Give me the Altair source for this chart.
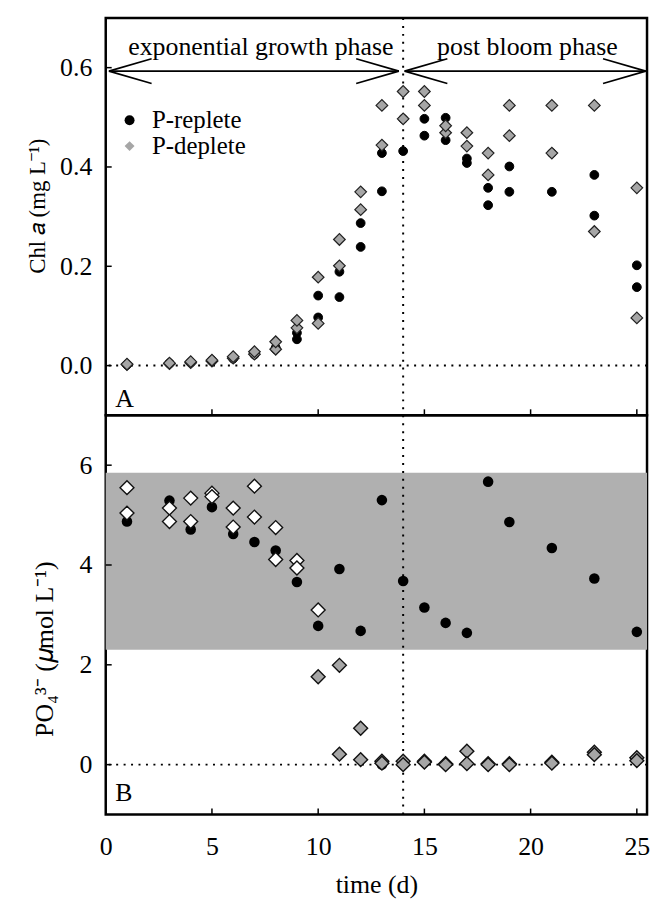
import altair as alt
import pandas as pd

# ---------------- data ----------------
days = [1, 3, 4, 5, 6, 7, 8, 9, 10, 11, 12, 13, 14, 15, 16, 17, 18, 19, 21, 23, 25]

chl_rep_a = [0.002, 0.004, 0.006, 0.009, 0.014, 0.022, 0.033, 0.053, 0.097, 0.138, 0.239,
             0.351, 0.432, 0.463, 0.454, 0.408, 0.323, 0.350, 0.350, 0.302, 0.158]
chl_rep_b = [0.002, 0.005, 0.007, 0.011, 0.016, 0.026, 0.036, 0.066, 0.141, 0.189, 0.287,
             0.428, 0.497, 0.497, 0.499, 0.417, 0.358, 0.401, 0.428, 0.384, 0.202]
chl_dep_a = [0.002, 0.004, 0.006, 0.009, 0.015, 0.023, 0.033, 0.076, 0.085, 0.201, 0.314,
             0.444, 0.497, 0.524, 0.469, 0.442, 0.384, 0.463, 0.428, 0.270, 0.096]
chl_dep_b = [0.003, 0.005, 0.008, 0.011, 0.018, 0.028, 0.048, 0.091, 0.178, 0.254, 0.350,
             0.524, 0.552, 0.552, 0.483, 0.469, 0.428, 0.524, 0.524, 0.524, 0.358]

po4_rep = [4.87, 5.29, 4.71, 5.16, 4.62, 4.46, 4.29, 3.66, 2.78, 3.92, 2.68,
           5.30, 3.68, 3.15, 2.84, 2.64, 5.67, 4.86, 4.34, 3.73, 2.66]
po4_rep_low_days = [13, 14]
po4_rep_low = [0.0, 0.0]
po4_dep_a = [5.55, 5.14, 5.34, 5.44, 5.14, 5.58, 4.75, 4.09, 3.10, 1.99, 0.73,
             0.07, 0.07, 0.07, 0.02, 0.27, 0.02, 0.02, 0.05, 0.25, 0.14]
po4_dep_b = [5.04, 4.87, 4.87, 5.37, 4.76, 4.96, 4.11, 3.94, 1.76, 0.21, 0.10,
             0.03, 0.00, 0.05, 0.00, 0.02, 0.00, 0.00, 0.03, 0.20, 0.08]

series_names = ["P-replete", "P-deplete"]
x_domain = [0, 25.48]
chl_domain = [-0.1, 0.7]
po4_domain = [-1, 7]
x_ticks = [0, 5, 10, 15, 20, 25]
chl_ticks = [0.0, 0.2, 0.4, 0.6]
po4_ticks = [0, 2, 4, 6]
band = [2.3, 5.85]
bloom_day = 14
phase_names = ["exponential growth phase", "post bloom phase"]
phase_start = [0.15, 14.07]
phase_end = [13.8, 25.42]
phase_mid = [7.3, 19.85]
arrow_level = 0.593
phase_label_level = 0.625
panel_letters = ["A", "B"]
panel_letter_x = 0.45
panel_letter_y = [-0.0835, -0.72]

# ---------------- style ----------------
PW, HA, HB = 545, 400, 402
FONT = "Liberation Serif"
FS = 26
GRAY = "#a6a6a6"
BANDC = "#b0b0b0"
TICK_PX = 6
HEAD_LEN_PX = 43
HEAD_HALF_PX = 12.5

px_day = PW / (x_domain[1] - x_domain[0])
px_chl = HA / (chl_domain[1] - chl_domain[0])
px_po4 = HB / (po4_domain[1] - po4_domain[0])

xs = alt.Scale(domain=x_domain, nice=False, zero=False)
yas = alt.Scale(domain=chl_domain, nice=False, zero=False)
ybs = alt.Scale(domain=po4_domain, nice=False, zero=False)

# ---------------- tables ----------------
chl_rows = []
for d, v in zip(days + days, chl_rep_a + chl_rep_b):
    chl_rows.append({"day": d, "value": v, "series": "P-replete"})
for d, v in zip(days + days, chl_dep_a + chl_dep_b):
    chl_rows.append({"day": d, "value": v, "series": "P-deplete"})
chl = pd.DataFrame(chl_rows)

po4_rep_df = pd.DataFrame({"day": days + po4_rep_low_days, "value": po4_rep + po4_rep_low})
po4_dep_df = pd.DataFrame({"day": days + days, "value": po4_dep_a + po4_dep_b})
po4_dep_df["fillc"] = ["white" if band[0] <= v <= band[1] else GRAY for v in po4_dep_df["value"]]

seg = []
hx = HEAD_LEN_PX / px_day
hy = HEAD_HALF_PX / px_chl
for s, e in zip(phase_start, phase_end):
    seg.append((s, e, arrow_level, arrow_level))
    for sign in (1, -1):
        seg.append((s, s + hx, arrow_level, arrow_level + sign * hy))
        seg.append((e, e - hx, arrow_level, arrow_level + sign * hy))
arrows = pd.DataFrame(seg, columns=["x", "x2", "y", "y2"])
phases = pd.DataFrame({"name": phase_names, "mid": phase_mid, "lvl": phase_label_level})

a_yt = pd.DataFrame({"v": chl_ticks, "x0": x_domain[0], "x1": x_domain[0] + TICK_PX / px_day})
b_yt = pd.DataFrame({"v": po4_ticks, "x0": x_domain[0], "x1": x_domain[0] + TICK_PX / px_day})
a_xt = pd.DataFrame({"d": x_ticks[1:], "y0": chl_domain[0], "y1": chl_domain[0] + TICK_PX / px_chl})
b_xt = pd.DataFrame({"d": x_ticks[1:], "y0": po4_domain[0], "y1": po4_domain[0] + TICK_PX / px_po4})

vline = pd.DataFrame({"day": [bloom_day]})
hline = pd.DataFrame({"v": [0]})
band_df = pd.DataFrame({"x": [x_domain[0]], "x2": [x_domain[1]], "lo": [band[0]], "hi": [band[1]]})
lettA = pd.DataFrame({"t": [panel_letters[0]], "x": [panel_letter_x], "y": [panel_letter_y[0]]})
lettB = pd.DataFrame({"t": [panel_letters[1]], "x": [panel_letter_x], "y": [panel_letter_y[1]]})

# ---------------- axes ----------------
ax_none = None
ya_axis = alt.Axis(values=chl_ticks, format=".1f", labelPadding=14,
                   title="Chl 𝑎 (mg L⁻¹)", titleX=-62, titleY=189, titleFontSize=23,
                   titleBaseline="alphabetic", titleAngle=270, titleAlign="center")
yb_axis = alt.Axis(values=po4_ticks, format="d", labelPadding=14,
                   title="PO₄³⁻  (𝜇mol L⁻¹)", titleX=-54, titleY=235,
                   titleBaseline="alphabetic", titleAngle=270, titleAlign="center")
xb_axis = alt.Axis(values=x_ticks, format="d", labelPadding=19, labelFlush=False,
                   title="time (d)", titleY=78, titleBaseline="alphabetic")


def panel(ydom_scale, yaxis, xaxis, yt, xt, extra_back, points, letter):
    dots = dict(color="black", strokeWidth=2)
    layers = list(extra_back)
    layers.append(alt.Chart(hline).mark_rule(strokeDash=[2, 5.5], **dots).encode(
        y=alt.Y("v:Q", scale=ydom_scale, axis=yaxis)))
    layers.append(alt.Chart(vline).mark_rule(strokeDash=[2, 6], **dots).encode(
        x=alt.X("day:Q", scale=xs, axis=xaxis)))
    layers.append(alt.Chart(yt).mark_rule(color="black", strokeWidth=1.5).encode(
        x=alt.X("x0:Q", scale=xs, axis=xaxis), x2="x1:Q",
        y=alt.Y("v:Q", scale=ydom_scale, axis=yaxis)))
    layers.append(alt.Chart(xt).mark_rule(color="black", strokeWidth=1.5).encode(
        x=alt.X("d:Q", scale=xs, axis=xaxis),
        y=alt.Y("y0:Q", scale=ydom_scale, axis=yaxis), y2="y1:Q"))
    layers += points
    layers.append(alt.Chart(letter).mark_text(font=FONT, fontSize=FS, align="left",
                                               baseline="alphabetic", color="black").encode(
        x=alt.X("x:Q", scale=xs, axis=xaxis),
        y=alt.Y("y:Q", scale=ydom_scale, axis=yaxis), text="t:N"))
    return alt.layer(*layers)


legend = alt.Legend(title=None, orient="none", legendX=11.5, legendY=90.5,
                    labelFont=FONT, labelFontSize=25, labelColor="black",
                    symbolStrokeColor="black", symbolStrokeWidth=1.2, symbolSize=100,
                    rowPadding=0, labelOffset=10, padding=0)
fill_enc = alt.Fill("series:N", scale=alt.Scale(domain=series_names, range=["black", GRAY]),
                    legend=legend)
shape_enc = alt.Shape("series:N", scale=alt.Scale(domain=series_names, range=["circle", "diamond"]),
                      legend=legend)

a_arrows = alt.Chart(arrows).mark_rule(color="black", strokeWidth=1.6).encode(
    x=alt.X("x:Q", scale=xs, axis=ax_none), x2="x2:Q",
    y=alt.Y("y:Q", scale=yas, axis=ya_axis), y2="y2:Q")
a_text = alt.Chart(phases).mark_text(font=FONT, fontSize=FS, align="center",
                                     baseline="alphabetic", color="black").encode(
    x=alt.X("mid:Q", scale=xs, axis=ax_none),
    y=alt.Y("lvl:Q", scale=yas, axis=ya_axis), text="name:N")
a_circ = alt.Chart(chl).transform_filter(alt.datum.series == "P-replete").mark_point(
    filled=True, opacity=1, size=78, stroke="black", strokeWidth=1).encode(
    x=alt.X("day:Q", scale=xs, axis=ax_none),
    y=alt.Y("value:Q", scale=yas, axis=ya_axis), fill=fill_enc, shape=shape_enc)
a_diam = alt.Chart(chl).transform_filter(alt.datum.series == "P-deplete").mark_point(
    filled=True, opacity=1, size=137, stroke="#222222", strokeWidth=1.2).encode(
    x=alt.X("day:Q", scale=xs, axis=ax_none),
    y=alt.Y("value:Q", scale=yas, axis=ya_axis), fill=fill_enc, shape=shape_enc)

A = panel(yas, ya_axis, ax_none, a_yt, a_xt, [], [a_arrows, a_text, a_circ, a_diam], lettA).properties(
    width=PW, height=HA)

b_band = alt.Chart(band_df).mark_rect(color=BANDC, opacity=1).encode(
    x=alt.X("x:Q", scale=xs, axis=xb_axis), x2="x2:Q",
    y=alt.Y("lo:Q", scale=ybs, axis=yb_axis), y2="hi:Q")
b_circ = alt.Chart(po4_rep_df).mark_point(shape="circle", filled=True, opacity=1, size=113,
                                          color="black").encode(
    x=alt.X("day:Q", scale=xs, axis=xb_axis),
    y=alt.Y("value:Q", scale=ybs, axis=yb_axis))
b_diam = alt.Chart(po4_dep_df).mark_point(shape="diamond", filled=True, opacity=1, size=196,
                                          stroke="#111111", strokeWidth=1.4).encode(
    x=alt.X("day:Q", scale=xs, axis=xb_axis),
    y=alt.Y("value:Q", scale=ybs, axis=yb_axis),
    fill=alt.Fill("fillc:N", scale=None))

B = panel(ybs, yb_axis, xb_axis, b_yt, b_xt, [b_band], [b_circ, b_diam], lettB).properties(
    width=PW, height=HB)

chart = alt.vconcat(A, B, spacing=0, bounds="flush").properties(
    padding={"left": 16.4, "top": 4, "right": 0, "bottom": 0}
).configure_view(stroke="black", strokeWidth=2.5).configure_axis(
    domain=False, ticks=False, grid=False, labelFont=FONT, labelFontSize=FS,
    labelColor="black", titleFont=FONT, titleFontSize=FS, titleFontWeight="normal",
    titleColor="black", labelOverlap=False
).resolve_scale(fill="independent", shape="independent")

chart.save("out.html", embed_options={"renderer": "svg", "actions": False})
